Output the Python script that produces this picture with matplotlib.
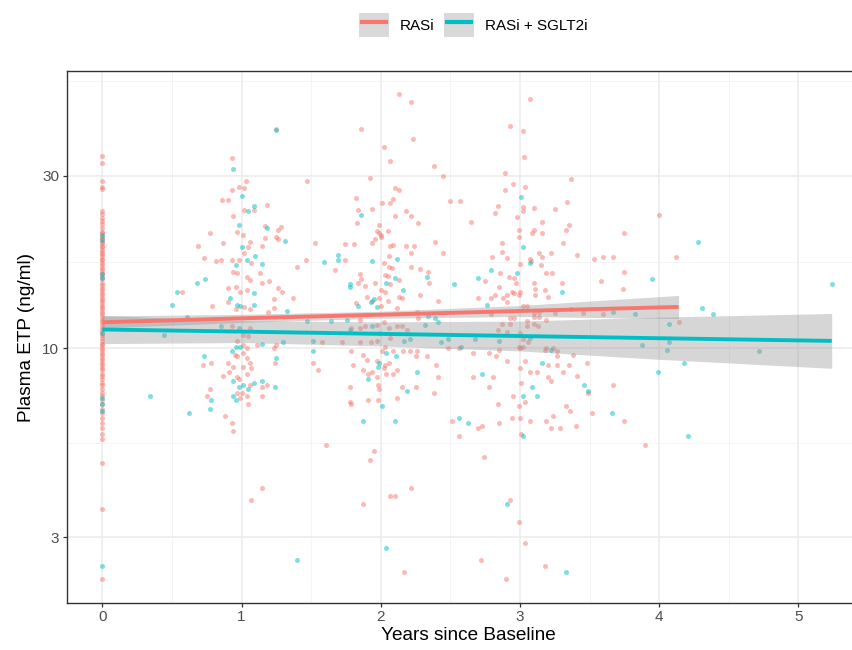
import numpy as np
import matplotlib
matplotlib.use("Agg")
import matplotlib.pyplot as plt
from matplotlib.patches import Patch
from matplotlib.lines import Line2D
from matplotlib.legend_handler import HandlerTuple, HandlerLine2D
from matplotlib.ticker import NullFormatter

plt.rcParams['font.family'] = ['Liberation Sans', 'DejaVu Sans']

# ---------------------------------------------------------------
# data
# ---------------------------------------------------------------
group_labels = ['RASi', 'RASi + SGLT2i']

# baseline visits (years = 0)
rasi_base_etp = [34, 32.5, 29, 28, 27.5, 24, 23.5, 23, 22.5, 22,
                 21.5, 21, 20.8, 20.5, 20.2, 20, 19.7, 19.5, 19.2, 19,
                 18.7, 18.5, 18.2, 18, 17.7, 17.5, 17.2, 17, 16.7, 16.5,
                 16.2, 16, 15.7, 15.5, 15.2, 15, 14.7, 14.5, 14.2, 14,
                 13.8, 13.6, 13.4, 13.2, 13.0, 12.8, 12.6, 12.4, 12.2, 12,
                 11.8, 11.6, 11.4, 11.2, 11.0, 10.9, 10.7, 10.5, 10.3, 10.2,
                 10.0, 9.9, 9.7, 9.6, 9.4, 9.3, 9.1, 9.0, 8.8, 8.7,
                 8.5, 8.4, 8.2, 8.0, 7.9, 7.7, 7.5, 7.4, 7.2, 7.0,
                 6.8, 6.6, 6.4, 6.2, 6.0, 5.8, 5.6, 4.8, 3.6, 2.3]
sglt_base_etp = [20.6, 19.9, 16.0, 15.6, 11.0, 7.3, 7.0, 6.7, 2.5]

# follow-up visits, RASi
rasi_years = [
    0.93, 1.25, 1.47, 1.03, 0.98, 1.02, 0.93, 0.86, 0.90, 1.18,
    1.09, 1.02, 0.94, 1.17, 1.28, 1.26, 1.25, 0.77, 1.01, 0.97,
    0.87, 1.06, 0.69, 0.73, 1.53, 1.17, 1.26, 1.05, 1.15, 0.85,
    0.82, 0.93, 0.98, 1.02, 1.07, 0.94, 0.97, 1.13, 1.40, 1.46,
    1.74, 1.67, 0.57, 0.90, 0.96, 1.04, 1.06, 0.99, 1.04, 1.15,
    1.20, 1.26, 1.29, 1.23, 1.37, 0.90, 1.02, 0.96, 1.06, 1.19,
    0.79, 0.93, 1.06, 1.01, 1.05, 0.97, 1.01, 1.04, 1.11, 1.25,
    1.23, 1.58, 1.72, 0.72, 0.78, 0.90, 0.95, 0.97, 1.01, 1.04,
    1.06, 1.01, 1.07, 0.94, 0.91, 0.87, 0.97, 1.04, 0.98, 1.24,
    1.51, 1.55, 1.06, 0.97, 1.00, 1.04, 0.99, 1.05, 1.15, 1.18,
    1.15, 0.77, 0.75, 0.88, 0.93, 1.78, 0.94, 1.15, 1.07, 1.61,
    1.23,
    2.13, 2.22, 1.86, 2.23, 2.02, 2.07, 2.38, 2.45, 1.92, 1.82,
    1.84, 1.94, 1.83, 2.01, 2.07, 2.10, 2.13, 2.09, 2.10, 2.18,
    2.22, 2.27, 1.99, 2.05, 1.97, 2.00, 1.96, 2.07, 2.18, 2.24,
    1.81, 1.94, 2.09, 2.39, 2.45, 2.22, 2.02, 2.06, 2.08, 2.22,
    2.28, 2.34, 1.85, 1.74, 2.03, 2.13, 1.86, 1.96, 1.89, 2.07,
    2.00, 2.41, 2.28, 2.13, 1.90, 1.94, 2.12, 1.99, 2.00, 2.06,
    1.84, 2.05, 2.35, 2.03, 2.05, 1.99, 1.82, 2.15, 2.00, 2.26,
    2.27, 1.85, 1.79, 1.85, 1.89, 1.97, 2.02, 2.06, 2.12, 2.15,
    2.19, 1.99, 1.97, 2.07, 1.85, 1.93, 2.03, 1.79, 2.01, 2.09,
    2.16, 2.21, 2.26, 2.33, 2.25, 2.48, 2.66, 2.78, 2.85, 1.87,
    1.90, 1.80, 1.97, 2.03, 2.06, 2.02, 2.04, 2.09, 2.12, 1.91,
    1.94, 1.87, 1.97, 1.98, 1.99, 2.15, 2.25, 2.40, 2.41, 2.38,
    2.66, 2.81, 2.78, 1.78, 1.79, 1.91, 1.98, 2.12, 2.51, 2.73,
    2.84, 1.87, 1.92, 1.95, 2.22, 2.07, 2.10, 2.17, 2.56,
    3.07, 2.93, 3.02, 3.03, 2.89, 2.95, 3.04, 2.89, 3.37, 2.57,
    2.50, 2.84, 2.82, 3.02, 3.02, 3.10, 3.25, 3.34, 2.98, 2.65,
    3.16, 3.35, 3.10, 3.09, 3.33, 2.99, 2.99, 3.16, 2.87, 3.31,
    3.75, 4.00, 2.87, 3.14, 3.22, 3.41, 3.53, 3.60, 3.67, 4.12,
    2.80, 2.91, 3.07, 3.08, 3.15, 3.16, 3.00, 2.86, 3.19, 3.23,
    3.75, 2.75, 2.92, 2.96, 2.97, 3.10, 3.30, 3.58, 2.85, 3.11,
    3.18, 3.74, 2.94, 2.96, 3.00, 2.99, 2.82, 2.88, 2.91, 3.11,
    2.79, 2.70, 3.20, 2.91, 3.02, 3.05, 3.10, 3.14, 3.25, 3.37,
    3.45, 3.60, 2.79, 2.93, 2.96, 3.05, 3.10, 3.14, 3.19, 3.10,
    3.05, 3.13, 3.00, 2.87, 2.84, 2.93, 2.91, 3.06, 3.02, 2.99,
    3.00, 2.56, 3.27, 3.24, 3.19, 3.38, 2.91, 3.20, 3.27, 3.48,
    3.00, 3.07, 3.12, 3.20, 3.22, 3.31, 3.41, 3.67, 3.01, 2.95,
    3.04, 2.99, 3.24, 3.33, 3.36, 3.52, 2.70, 2.85, 2.94, 3.00,
    3.07, 3.19, 3.40, 3.75, 2.74, 2.93, 2.99, 3.04, 2.72, 3.18,
    2.90, 3.90, 3.49, 4.14, 3.01, 3.22, 3.29, 3.35, 3.04, 2.83,
    3.27, 3.18, 3.02]
rasi_etp = [
    33.5, 40.5, 29.0, 29.0, 28.0, 27.8, 27.4, 25.7, 25.7, 24.9,
    24.2, 24.2, 23.2, 21.8, 21.6, 21.3, 20.3, 20.8, 20.6, 21.0,
    19.6, 19.7, 19.2, 17.8, 19.6, 20.2, 20.1, 19.1, 19.2, 17.6,
    17.4, 17.5, 17.5, 18.4, 17.2, 16.3, 16.2, 16.2, 16.8, 17.5,
    19.4, 16.5, 14.3, 14.7, 14.8, 15.7, 15.4, 14.3, 14.5, 15.2,
    15.3, 14.7, 14.3, 13.7, 13.8, 13.4, 13.0, 12.8, 12.8, 12.6,
    13.1, 11.5, 11.4, 10.9, 10.8, 10.5, 10.2, 10.0, 10.2, 10.2,
    10.0, 10.4, 10.4, 9.0, 9.1, 9.1, 9.6, 9.5, 9.7, 9.4,
    9.1, 8.9, 8.8, 8.9, 8.6, 8.4, 8.3, 8.5, 8.2, 9.1,
    9.1, 8.7, 7.9, 7.5, 7.5, 7.4, 7.3, 7.0, 7.8, 7.9,
    7.4, 7.7, 7.4, 6.5, 6.2, 7.1, 5.9, 4.1, 3.8, 5.4,
    12.9,
    50.6, 48.0, 40.5, 37.9, 36.0, 33.0, 32.0, 30.0, 29.6, 26.0,
    24.1, 24.3, 22.2, 25.2, 25.2, 27.8, 27.4, 25.9, 23.2, 24.0,
    23.2, 22.2, 21.9, 21.1, 21.1, 20.6, 20.0, 19.2, 19.2, 19.2,
    19.4, 19.6, 19.3, 19.7, 18.4, 18.4, 17.2, 16.8, 16.7, 16.8,
    16.6, 16.3, 16.0, 17.5, 15.9, 15.4, 15.5, 15.2, 14.9, 15.1,
    14.5, 13.5, 14.0, 13.9, 13.9, 13.5, 12.9, 20.8, 20.3, 18.0,
    15.2, 15.8, 15.2, 14.3, 13.5, 13.8, 13.3, 13.8, 13.1, 12.6,
    12.1, 12.0, 11.4, 11.4, 11.5, 11.6, 11.8, 11.4, 11.5, 11.5,
    11.2, 11.0, 10.5, 10.7, 10.4, 10.4, 10.1, 9.8, 9.8, 9.8,
    9.8, 9.8, 9.8, 9.5, 9.5, 10.0, 9.7, 9.7, 9.9, 9.6,
    9.3, 9.0, 9.2, 9.0, 9.1, 8.8, 8.5, 8.5, 8.7, 8.5,
    8.6, 8.7, 8.3, 7.9, 7.7, 7.8, 7.8, 9.0, 8.3, 7.5,
    8.3, 8.3, 7.8, 7.8, 7.0, 7.2, 7.2, 7.3, 6.3, 6.1,
    7.0, 3.7, 4.9, 5.2, 4.1, 3.9, 3.9, 2.4, 5.7,
    49.0, 41.3, 40.0, 33.8, 30.6, 28.5, 27.9, 27.4, 29.4, 25.5,
    25.5, 24.7, 23.7, 24.6, 24.0, 24.5, 24.3, 25.4, 23.1, 22.3,
    22.4, 21.9, 21.3, 20.9, 21.3, 21.3, 20.3, 20.8, 19.6, 19.6,
    20.8, 23.4, 18.5, 18.4, 18.4, 18.1, 17.7, 17.9, 17.9, 17.9,
    17.9, 17.8, 17.7, 17.4, 17.0, 17.9, 17.1, 16.2, 16.1, 16.2,
    16.3, 15.3, 15.7, 15.6, 15.2, 15.2, 15.2, 15.3, 14.8, 14.6,
    14.5, 14.6, 14.3, 14.2, 14.3, 14.0, 14.0, 13.8, 14.0, 14.0,
    13.8, 13.8, 13.9, 13.4, 13.1, 13.1, 12.5, 12.6, 12.5, 12.8,
    12.5, 12.4, 12.4, 12.1, 12.1, 11.9, 12.2, 12.2, 12.0, 11.7,
    11.5, 11.5, 11.0, 11.7, 11.2, 11.7, 11.1, 10.4, 10.6, 10.1,
    10.0, 10.0, 9.8, 10.0, 10.0, 9.6, 9.2, 9.0, 9.0, 9.1,
    8.8, 8.6, 8.6, 8.3, 8.1, 8.6, 8.4, 7.9, 8.0, 7.4,
    7.1, 6.9, 6.5, 6.9, 6.7, 6.6, 6.0, 6.2, 6.4, 6.4,
    6.3, 6.3, 6.1, 6.3, 5.0, 3.8, 3.3, 2.9, 2.6, 2.5,
    2.3, 5.4, 7.5, 11.8, 5.8, 6.0, 6.0, 9.0, 9.2, 9.5,
    9.5, 9.9, 10.1]

# follow-up visits, RASi + SGLT2i
sglt_years = [
    0.94, 1.25, 1.00, 1.09, 1.05, 0.98, 1.18, 1.31, 1.00, 1.04,
    1.10, 1.15, 0.96, 1.59, 1.69, 1.69, 0.68, 0.74, 0.54, 1.09,
    0.92, 0.97, 0.99, 1.09, 0.50, 1.33, 1.47, 1.64, 1.76, 0.61,
    0.34, 0.44, 0.85, 0.98, 0.99, 0.96, 0.93, 1.15, 1.30, 1.51,
    1.51, 1.78, 0.73, 1.25, 0.94, 1.15, 1.09, 1.01, 0.98, 1.05,
    0.94, 0.96, 1.24, 0.78, 0.77, 0.62, 1.40, 1.86, 2.12, 1.94,
    2.10, 2.04, 1.78, 1.78, 2.16, 2.33, 2.53, 1.84, 1.97, 1.95,
    1.93, 1.94, 2.34, 2.39, 2.41, 2.32, 2.17, 2.21, 2.48, 2.58,
    2.04, 2.11, 1.99, 1.98, 1.91, 2.19, 2.26, 2.73, 2.01, 1.87,
    2.10, 2.56, 2.63, 2.04, 3.02, 3.01, 3.07, 2.79, 2.98, 2.70,
    3.30, 2.76, 3.67, 3.83, 2.43, 2.68, 2.85, 3.07, 3.22, 3.16,
    3.46, 3.49, 3.09, 3.02, 3.12, 3.66, 3.02, 2.91, 3.33, 3.88,
    4.07, 4.06, 4.07, 3.99, 4.18, 4.72, 4.31, 4.39, 4.28, 3.95,
    4.21, 5.24]
sglt_etp = [
    31.3, 40.2, 26.3, 24.7, 24.0, 21.9, 21.5, 19.8, 19.1, 17.5,
    18.0, 17.1, 17.0, 17.3, 18.1, 17.5, 15.2, 15.5, 14.3, 14.2,
    13.8, 13.2, 13.1, 13.2, 13.2, 12.7, 11.9, 11.9, 12.0, 12.2,
    7.4, 10.9, 11.5, 11.4, 10.1, 10.1, 9.8, 10.3, 10.4, 10.5,
    9.8, 11.2, 9.5, 9.4, 8.1, 8.1, 8.0, 7.9, 7.8, 7.7,
    7.4, 7.2, 7.8, 7.2, 6.8, 6.6, 2.6, 23.3, 17.7, 17.4,
    15.6, 15.2, 15.1, 14.8, 14.5, 15.7, 15.1, 13.1, 13.0, 13.7,
    13.4, 11.5, 12.3, 12.1, 11.8, 11.6, 10.5, 10.6, 10.6, 10.1,
    9.7, 9.5, 9.1, 8.9, 8.2, 7.6, 8.6, 8.5, 6.9, 6.3,
    6.3, 6.4, 6.2, 2.8, 19.0, 26.2, 17.2, 16.5, 16.1, 15.6,
    14.3, 13.2, 12.6, 12.4, 10.4, 10.6, 10.5, 10.7, 9.9, 9.1,
    7.9, 7.6, 7.8, 7.4, 7.4, 6.6, 5.7, 3.7, 2.4, 10.2,
    10.4, 9.9, 11.7, 8.6, 9.1, 9.8, 12.9, 12.4, 19.7, 15.5,
    5.7, 15.1]

# fitted lines with 95% bands (log scale model)
rasi_fit_years = [0, 1, 2, 3, 4.14]
rasi_fit_mid = [11.8, 12.1, 12.38, 12.68, 13.01]
rasi_fit_lo = [11.38, 11.79, 12.11, 12.24, 12.08]
rasi_fit_hi = [12.29, 12.41, 12.66, 13.13, 14.0]

sglt_fit_years = [0, 1, 2, 3, 4, 5.24]
sglt_fit_mid = [11.27, 11.12, 10.96, 10.81, 10.66, 10.48]
sglt_fit_lo = [10.30, 10.37, 10.15, 9.83, 9.32, 8.80]
sglt_fit_hi = [12.32, 11.92, 11.83, 11.89, 12.19, 12.48]

# ---------------------------------------------------------------
# plot
# ---------------------------------------------------------------
red = '#F8766D'
teal = '#00BFC4'

W, H = 853, 650
fig = plt.figure(figsize=(W / 100, H / 100), dpi=100)
ax = fig.add_axes([66.7 / W, 47.3 / H, 1 - 66.7 / W, 532 / H])

ax.scatter(np.zeros(len(rasi_base_etp)), rasi_base_etp, s=13, color=red, alpha=0.5, linewidths=0)
ax.scatter(rasi_years, rasi_etp, s=13, color=red, alpha=0.5, linewidths=0)
ax.scatter(np.zeros(len(sglt_base_etp)), sglt_base_etp, s=13, color=teal, alpha=0.5, linewidths=0)
ax.scatter(sglt_years, sglt_etp, s=13, color=teal, alpha=0.5, linewidths=0)

# ribbon + line per group, like geom_smooth
ax.fill_between(rasi_fit_years, rasi_fit_lo, rasi_fit_hi, color='#999999', alpha=0.4, linewidth=0)
ax.plot(rasi_fit_years, rasi_fit_mid, color=red, lw=2.8, solid_capstyle='butt')
ax.fill_between(sglt_fit_years, sglt_fit_lo, sglt_fit_hi, color='#999999', alpha=0.4, linewidth=0)
ax.plot(sglt_fit_years, sglt_fit_mid, color=teal, lw=2.8, solid_capstyle='butt')

ax.set_yscale('log')
ax.set_xlim(-0.256, (W - 102.3) / 139.2)
ax.set_ylim(1.977, 58.6)

ax.set_xticks([0, 1, 2, 3, 4, 5])
ax.set_xticklabels(['0', '1', '2', '3', '4', '5'])
ax.set_xticks([0.5, 1.5, 2.5, 3.5, 4.5], minor=True)
ax.set_yticks([3, 10, 30])
ax.set_yticklabels(['3', '10', '30'])
ax.set_yticks([5.48, 17.3, 54.8], minor=True)
ax.yaxis.set_minor_formatter(NullFormatter())

ax.grid(which='major', color='#EBEBEB', lw=1.1)
ax.grid(which='minor', color='#F2F2F2', lw=0.6)
ax.set_axisbelow(True)

ax.tick_params(which='major', length=2.8, width=0.9, color='#333333',
               labelsize=11, labelcolor='#4D4D4D', pad=2.5)
ax.tick_params(which='minor', length=0)
for side in ['left', 'bottom', 'top']:
    ax.spines[side].set_color('#333333')
    ax.spines[side].set_linewidth(1.0)
ax.spines['right'].set_visible(False)

fig.text(468 / W, 1 - 635 / H, 'Years since Baseline', ha='center', va='center', fontsize=13.7)
fig.text(27 / W, 1 - 337 / H, 'Plasma ETP (ng/ml)', ha='center', va='center',
         rotation=90, fontsize=13.7)

handles = [(Patch(facecolor='#D9D9D9', edgecolor='none'), Line2D([], [], color=red, lw=3)),
           (Patch(facecolor='#D9D9D9', edgecolor='none'), Line2D([], [], color=teal, lw=3))]
fig.legend(handles, group_labels,
           handler_map={tuple: HandlerTuple(ndivide=1),
                        Line2D: HandlerLine2D(marker_pad=0.2, numpoints=2)},
           loc='center', bbox_to_anchor=(473 / W, 1 - 25 / H), ncol=2, frameon=False,
           fontsize=11, handlelength=1.96, handleheight=2.0, handletextpad=0.7,
           columnspacing=0.65, borderpad=0)

fig.savefig('out.png', dpi=100)
